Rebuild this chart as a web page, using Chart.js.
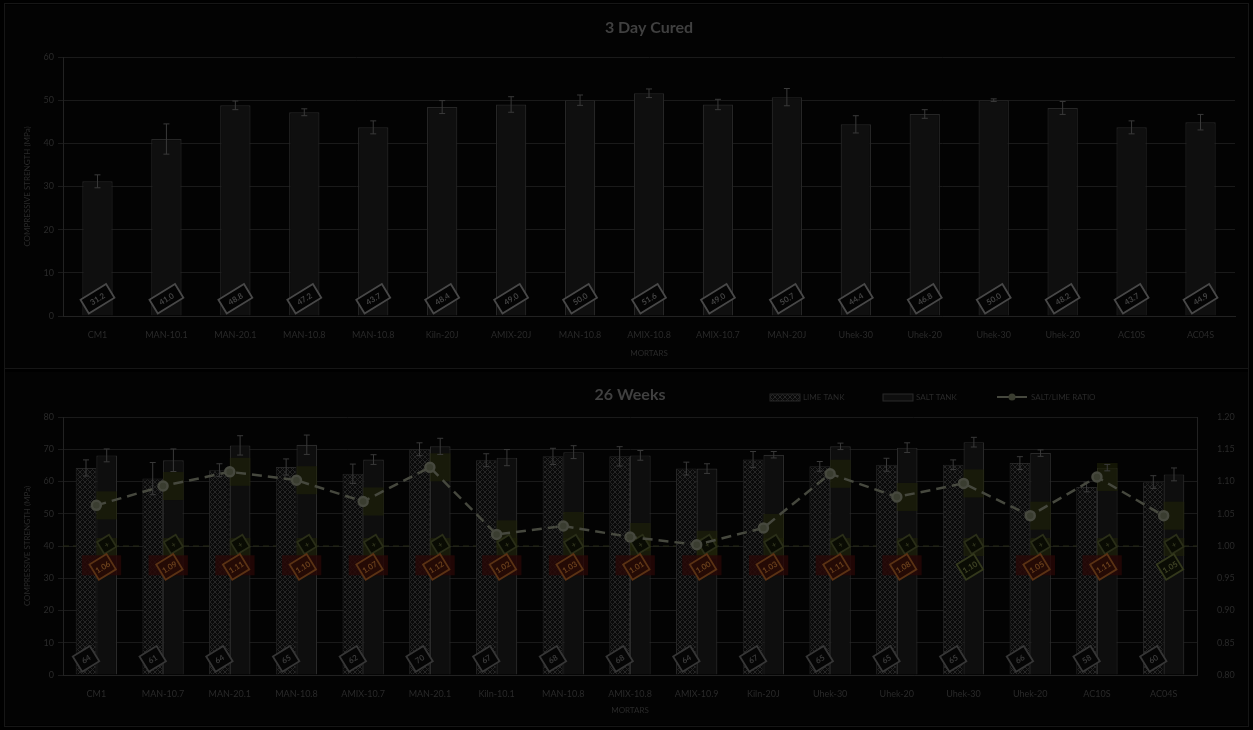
<!DOCTYPE html>
<html><head><meta charset="utf-8">
<script src="https://cdn.jsdelivr.net/npm/chart.js@4.4.0/dist/chart.umd.min.js"></script>
<style>
html,body{margin:0;padding:0;background:#000;width:1253px;height:730px;overflow:hidden;}
#frame{position:absolute;left:4px;top:3px;width:1245px;height:724px;border:1px solid #161616;box-sizing:border-box;}
.panel{position:absolute;left:5px;width:1243px;background:#030303;}
#p1{top:5px;height:363px;border-bottom:1px solid #161616;}
#p2{top:372px;height:353px;}
</style></head><body>
<div id="frame"></div>
<div class="panel" id="p1"><canvas id="c1" width="1243" height="363"></canvas></div>
<div class="panel" id="p2"><canvas id="c2" width="1243" height="353"></canvas></div>
<script>
// ---------- DATA ----------
const topCategories = ["CM1","MAN-10.1","MAN-20.1","MAN-10.8","MAN-10.8","Kiln-20J","AMIX-20J","MAN-10.8","AMIX-10.8","AMIX-10.7","MAN-20J","Uhek-30","Uhek-20","Uhek-30","Uhek-20","AC10S","AC04S"];
const topValues = [31.2,41.0,48.8,47.2,43.7,48.4,49.0,50.0,51.6,49.0,50.7,44.4,46.8,50.0,48.2,43.7,44.9];
const topErrors = [1.5,3.5,1.0,0.8,1.5,1.5,1.8,1.2,1.0,1.2,2.0,2.0,1.0,0.3,1.5,1.5,1.8];
const topTicks = [0,10,20,30,40,50,60];

const botCategories = ["CM1","MAN-10.7","MAN-20.1","MAN-10.8","AMIX-10.7","MAN-20.1","Kiln-10.1","MAN-10.8","AMIX-10.8","AMIX-10.9","Kiln-20J","Uhek-30","Uhek-20","Uhek-30","Uhek-20","AC10S","AC04S"];
const limeValues = [64.2,60.9,63.5,64.5,62.4,70.0,66.6,67.8,67.8,64.0,66.8,64.7,65.2,65.2,65.7,58.3,59.8];
const limeErrors = [2.5,5.0,2.0,2.5,3.0,2.0,2.0,2.5,3.0,2.0,2.5,1.5,2.0,1.5,2.0,1.5,2.0];
const saltValues = [68.1,66.6,71.2,71.4,66.8,70.9,67.4,69.1,68.1,64.0,68.3,70.9,70.5,72.2,68.8,64.3,62.2];
const saltErrors = [2.0,3.5,3.0,3.0,1.5,2.5,2.5,2.0,1.5,1.5,1.0,1.0,1.5,1.5,1.0,1.0,2.0];
const ratioValues = [1.063,1.093,1.115,1.102,1.069,1.122,1.018,1.031,1.014,1.002,1.028,1.112,1.076,1.097,1.047,1.107,1.047];
const leftTicks = [0,10,20,30,40,50,60,70,80];
const rightTicks = [0.80,0.85,0.90,0.95,1.00,1.05,1.10,1.15,1.20];
const legendLabels = ["LIME TANK","SALT TANK","SALT/LIME RATIO"];

// ---------- STYLE ----------
const FONT = "Lato, 'Open Sans', sans-serif";
const TXT = '#2a2a2a';
const GRID = '#1a1a1a';

function hatchPattern(){
  const c=document.createElement('canvas'); c.width=5; c.height=5;
  const g=c.getContext('2d');
  g.fillStyle='#0a0a0a'; g.fillRect(0,0,5,5);
  g.strokeStyle='#262626'; g.lineWidth=1;
  g.beginPath(); g.moveTo(0,0); g.lineTo(5,5); g.moveTo(5,0); g.lineTo(0,5); g.stroke();
  return g.createPattern(c,'repeat');
}
const hatch = hatchPattern();

function drawTitle(chart, text, y){
  const ctx=chart.ctx, a=chart.chartArea;
  ctx.save(); ctx.fillStyle='#404040'; ctx.font='bold 16px '+FONT;
  ctx.textAlign='center'; ctx.textBaseline='middle';
  ctx.fillText(text,(a.left+a.right)/2,y); ctx.restore();
}
function errBars(chart, dsIndex, errs, scaleId){
  const ctx=chart.ctx, meta=chart.getDatasetMeta(dsIndex), ys=chart.scales[scaleId];
  const vals=chart.data.datasets[dsIndex].data;
  ctx.save(); ctx.strokeStyle='#3a3a3a'; ctx.lineWidth=1;
  meta.data.forEach((el,i)=>{
    const x=el.x, y1=ys.getPixelForValue(vals[i]+errs[i]), y2=ys.getPixelForValue(vals[i]-errs[i]);
    ctx.beginPath(); ctx.moveTo(x,y1); ctx.lineTo(x,y2);
    ctx.moveTo(x-3,y1); ctx.lineTo(x+3,y1); ctx.moveTo(x-3,y2); ctx.lineTo(x+3,y2); ctx.stroke();
  });
  ctx.restore();
}
function tag(ctx,x,y,text,border,fill,txtColor,w,h){
  ctx.save(); ctx.translate(x,y); ctx.rotate(-0.55);
  ctx.fillStyle=fill; ctx.fillRect(-w/2,-h/2,w,h);
  ctx.strokeStyle=border; ctx.lineWidth=1.8; ctx.strokeRect(-w/2,-h/2,w,h);
  ctx.fillStyle=txtColor; ctx.font='bold 8px '+FONT; ctx.textAlign='center'; ctx.textBaseline='middle';
  ctx.fillText(text,0,0.5); ctx.restore();
}

// ---------- TOP CHART ----------
new Chart(document.getElementById('c1'),{
  type:'bar',
  data:{labels:topCategories,datasets:[{label:'3 Day',data:topValues,backgroundColor:'#0f0f0f',borderColor:'#262626',borderWidth:1.2,barPercentage:0.44,categoryPercentage:1}]},
  options:{
    responsive:false,animation:false,
    layout:{padding:{top:52,left:18,right:13,bottom:10}},
    plugins:{legend:{display:false},tooltip:{enabled:false}},
    scales:{
      x:{grid:{display:false},border:{color:'#222'},
         ticks:{color:TXT,font:{family:FONT,size:9},padding:6,maxRotation:0,autoSkip:false},
         title:{display:true,text:'MORTARS',color:TXT,font:{family:FONT,size:8},padding:0},
         afterFit(s){s.height=42;}},
      y:{min:0,max:60,afterBuildTicks(s){s.ticks=topTicks.map(v=>({value:v}));},
         grid:{color:GRID,tickLength:5},border:{color:'#222'},
         ticks:{color:TXT,font:{family:FONT,size:9},padding:4},
         title:{display:true,text:'COMPRESSIVE STRENGTH (MPa)',color:TXT,font:{family:FONT,size:8},padding:0},
         afterFit(s){s.width=40;}}
    }
  },
  plugins:[{id:'extra',afterDatasetsDraw(chart){
    errBars(chart,0,topErrors,'y');
    const ctx=chart.ctx, meta=chart.getDatasetMeta(0), ys=chart.scales.y;
    meta.data.forEach((el,i)=>tag(ctx,el.x,ys.getPixelForValue(4),topValues[i].toFixed(1),'#484848','#040404','#444',30,16));
  },afterDraw(chart){drawTitle(chart,'3 Day Cured',23);}}]
});

// ---------- BOTTOM CHART ----------
new Chart(document.getElementById('c2'),{
  type:'bar',
  data:{labels:botCategories,datasets:[
    {type:'line',label:legendLabels[2],data:ratioValues,yAxisID:'y1',borderColor:'#46483e',borderWidth:2.5,borderDash:[10,6],
     pointRadius:4.5,pointBackgroundColor:'#3a3d30',pointBorderColor:'#46483e',fill:false,tension:0,order:0},
    {label:legendLabels[0],data:limeValues,yAxisID:'y',backgroundColor:hatch,borderColor:'#262626',borderWidth:1,barPercentage:1,categoryPercentage:0.62,order:2},
    {label:legendLabels[1],data:saltValues,yAxisID:'y',backgroundColor:'#0e0e0e',borderColor:'#2a2a2a',borderWidth:1.2,barPercentage:1,categoryPercentage:0.62,order:2}
  ]},
  options:{
    responsive:false,animation:false,
    layout:{padding:{top:45,left:18,right:0,bottom:10}},
    plugins:{legend:{display:false},tooltip:{enabled:false}},
    scales:{
      x:{grid:{display:false},border:{color:'#222'},
         ticks:{color:TXT,font:{family:FONT,size:9},padding:6,maxRotation:0,autoSkip:false},
         title:{display:true,text:'MORTARS',color:TXT,font:{family:FONT,size:8},padding:0},
         afterFit(s){s.height=40;}},
      y:{min:0,max:80,position:'left',afterBuildTicks(s){s.ticks=leftTicks.map(v=>({value:v}));},
         grid:{color:GRID,tickLength:5},border:{color:'#222'},
         ticks:{color:TXT,font:{family:FONT,size:9},padding:4},
         title:{display:true,text:'COMPRESSIVE STRENGTH (MPa)',color:TXT,font:{family:FONT,size:8},padding:0},
         afterFit(s){s.width=40;}},
      y1:{min:0.8,max:1.2,position:'right',afterBuildTicks(s){s.ticks=rightTicks.map(v=>({value:v}));},
         grid:{display:false,drawOnChartArea:false},border:{color:'#222'},
         ticks:{color:TXT,font:{family:FONT,size:9},padding:12,callback:v=>Number(v).toFixed(2)},
         afterFit(s){s.width=51;}}
    }
  },
  plugins:[{id:'bg',beforeDatasetsDraw(chart){
    const ctx=chart.ctx, y1=chart.scales.y1, a=chart.chartArea;
    ctx.save();
    ctx.strokeStyle='#262a14'; ctx.lineWidth=1.2; ctx.setLineDash([6,4]);
    const yy=y1.getPixelForValue(1.0);
    ctx.beginPath(); ctx.moveTo(a.left,yy); ctx.lineTo(a.right,yy); ctx.stroke();
    ctx.restore();
  },afterDatasetDraw(chart,args){
    if(args.index!==1) return; // lime bars are drawn after salt bars
    const ctx=chart.ctx, y=chart.scales.y, y1=chart.scales.y1;
    const salt=chart.getDatasetMeta(2).data, lime=chart.getDatasetMeta(1).data;
    ctx.save();
    salt.forEach((el,i)=>{
      const w=el.width;
      const yr=y1.getPixelForValue(ratioValues[i]);
      ctx.fillStyle='rgba(32,36,8,0.55)';
      ctx.fillRect(el.x-w/2,yr-14,w,28);
      ctx.fillRect(el.x-w/2,y.getPixelForValue(40)-8,w,18);
      if(i!==13 && i!==16){ctx.fillStyle='rgba(40,8,6,0.8)'; ctx.fillRect(el.x-w*1.2,y.getPixelForValue(36.5)-2,w*1.9,20);}
    });
    ctx.restore();
    errBars(chart,1,limeErrors,'y'); errBars(chart,2,saltErrors,'y');
    lime.forEach((el,i)=>tag(ctx,el.x,y.getPixelForValue(5),limeValues[i].toFixed(0),'#363636','#050505','#3a3a3a',20,18));
    salt.forEach((el,i)=>{
      tag(ctx,el.x,y.getPixelForValue(40.5),'+','#2a2e18','#090b03','#33371f',14,14);
      if(i!==13 && i!==16) tag(ctx,el.x-4,y.getPixelForValue(33.5),ratioValues[i].toFixed(2),'#5a3214','#240a05','#6a401c',20,18);
      else tag(ctx,el.x-4,y.getPixelForValue(33.5),ratioValues[i].toFixed(2),'#33381c','#0a0c04','#404426',20,18);
    });
  },afterDraw(chart){
    drawTitle(chart,'26 Weeks',23);
    const ctx=chart.ctx, ly=25;
    ctx.save(); ctx.font='8px '+FONT; ctx.textBaseline='middle';
    let x=765;
    ctx.fillStyle=hatch; ctx.fillRect(x,ly-3,30,7); ctx.strokeStyle='#262626'; ctx.strokeRect(x,ly-3,30,7);
    ctx.fillStyle=TXT; ctx.fillText(legendLabels[0],x+33,ly);
    x=878; ctx.fillStyle='#0e0e0e'; ctx.fillRect(x,ly-3,30,7); ctx.strokeStyle='#2a2a2a'; ctx.strokeRect(x,ly-3,30,7);
    ctx.fillStyle=TXT; ctx.fillText(legendLabels[1],x+33,ly);
    x=992; ctx.strokeStyle='#46483e'; ctx.lineWidth=2; ctx.beginPath(); ctx.moveTo(x,ly); ctx.lineTo(x+30,ly); ctx.stroke();
    ctx.fillStyle='#3a3d30'; ctx.beginPath(); ctx.arc(x+15,ly,3.5,0,Math.PI*2); ctx.fill();
    ctx.fillStyle=TXT; ctx.fillText(legendLabels[2],x+34,ly);
    ctx.restore();
  }}]
});
</script>
</body></html>
